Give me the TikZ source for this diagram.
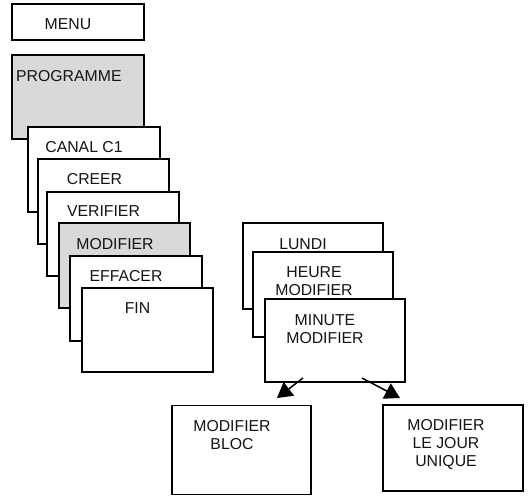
\documentclass[tikz,border=0pt]{standalone}
\usepackage{fontspec}
\setmainfont{Liberation Sans}
\usetikzlibrary{arrows.meta}
\definecolor{boxgray}{RGB}{217,217,217}
\definecolor{ink}{RGB}{20,20,20}
\begin{document}
\begin{tikzpicture}[x=1pt,y=-1pt,
  box/.style={draw=black, line width=1.8pt, fill=white, inner sep=0pt},
  graybox/.style={box, fill=boxgray},
  lbl/.style={inner sep=0pt, text=ink, align=center, font=\fontsize{15.8}{18}\selectfont},
  arr/.style={line width=1.5pt, -{Triangle[length=15pt,width=17pt]}}]
\useasboundingbox (0,0) rectangle (528,496);
% left stack
\node[box, minimum width=132pt, minimum height=36pt] (menu) at (78,22) {};
\node[lbl] (tmenu) at (68,24) {MENU};
\node[graybox, minimum width=132pt, minimum height=84pt] (prog) at (78,97) {};
\node[lbl, anchor=west] (tprog) at (16,76) {PROGRAMME};
\node[box, minimum width=132pt, minimum height=85pt] (canal) at (94,169.5) {};
\node[lbl] (tcanal) at (84,147) {CANAL C1};
\node[box, minimum width=131pt, minimum height=85pt] (creer) at (103.5,201.5) {};
\node[lbl] (tcreer) at (94.5,179) {CREER};
\node[box, minimum width=132pt, minimum height=84pt] (verif) at (113,234) {};
\node[lbl] (tverif) at (103.5,211) {VERIFIER};
\node[graybox, minimum width=131pt, minimum height=85pt] (modif) at (124.5,265.5) {};
\node[lbl] (tmodif) at (115,244) {MODIFIER};
\node[box, minimum width=132pt, minimum height=85pt] (eff) at (136,298.5) {};
\node[lbl] (teff) at (126,276) {EFFACER};
\node[box, minimum width=131pt, minimum height=84pt] (fin) at (147.5,330) {};
\node[lbl] (tfin) at (137.5,308) {FIN};
% right stack
\node[box, minimum width=140pt, minimum height=86pt] (lundi) at (313,266) {};
\node[lbl] (tlundi) at (303,244) {LUNDI};
\node[box, minimum width=140pt, minimum height=85pt] (heure) at (323,294.5) {};
\node[lbl] (theure) at (314,281) {HEURE\\MODIFIER};
\node[box, minimum width=140pt, minimum height=83pt] (minute) at (335,340.5) {};
\node[lbl] (tminute) at (325,329) {MINUTE\\MODIFIER};
% bottom boxes
\node[box, minimum width=139pt, minimum height=89pt] (bloc) at (241.5,450) {};
\node[lbl] (tbloc) at (232,435) {MODIFIER\\BLOC};
\node[box, minimum width=140pt, minimum height=86pt] (jour) at (453,448) {};
\node[lbl] (tjour) at (446,444) {MODIFIER\\LE JOUR\\UNIQUE};
% arrows
\coordinate (a1s) at (303,378);
\coordinate (a1e) at (277,398);
\coordinate (a2s) at (362,378);
\coordinate (a2e) at (400,398);
\draw[arr] (a1s) -- (a1e);
\draw[arr] (a2s) -- (a2e);
\end{tikzpicture}
\end{document}
